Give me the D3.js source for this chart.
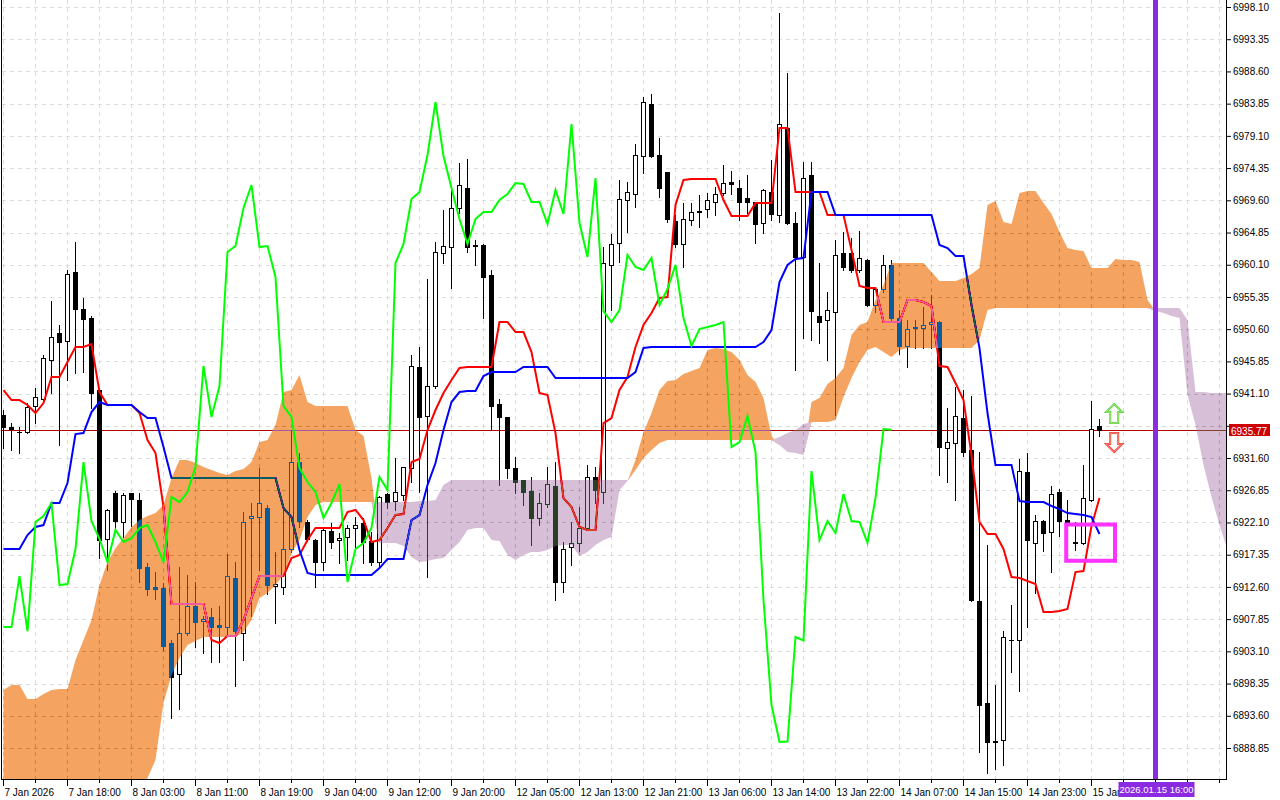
<!DOCTYPE html>
<html><head><meta charset="utf-8">
<script src="https://cdn.jsdelivr.net/npm/d3@7"></script>
<style>
html,body{margin:0;padding:0;background:#fff;}
svg{display:block;}
</style></head><body>
<svg id="c" width="1280" height="800"></svg>
<script>
// ---------------- DATA ----------------
const opens = [6937.94,6936.17,6935.5,6935.44,6939.27,6940.30,6946.05,6950.03,6948.86,6959.03,
 6953.57,6952.25,6941.63,6919.66,6926.44,6922.17,6926.44,6925.41,6915.53,6912.58,
 6912.43,6904.32,6899.75,6905.80,6909.78,6907.57,6908.16,6906.98,6906.68,6913.91,
 6905.80,6922.76,6922.90,6924.23,6912.73,6912.58,6918.18,6931.01,6922.17,6919.51,
 6916.27,6920.84,6919.51,6919.95,6921.28,6922.02,6919.36,6916.27,6926.29,6925.26,
 6926.15,6930.13,6945.02,6937.80,6942.22,6961.83,6962.71,6968.46,6971.41,6963.01,
 6963.01,6958.58,6939.56,6937.65,6930.13,6928.36,6926.74,6922.76,6924.82,6927.47,
 6913.32,6918.48,6919.07,6921.28,6928.80,6926.59,6960.06,6963.30,6969.64,6970.53,
 6976.13,6983.80,6976.28,6973.77,6966.55,6963.16,6966.69,6968.02,6968.32,6969.35,
 6970.67,6972.30,6971.41,6969.94,6969.35,6966.25,6970.82,6967.43,6980.26,6966.25,
 6961.24,6973.33,6952.54,6951.95,6953.13,6961.83,6961.83,6959.32,6960.80,6954.16,
 6956.52,6960.06,6952.25,6948.12,6950.77,6950.77,6951.36,6951.65,6933.08,6933.81,
 6937.50,6932.78,6910.52,6895.48,6889.9,6890.0,6904.8,6904.77,6929.54,6919.07,
 6922.31,6920.69,6926.59,6922.46,6919.2,6919.07,6925.41,6936.32];
const highs = [6938.68,6936.76,6936.17,6939.71,6941.92,6946.79,6954.75,6951.21,6959.32,6963.45,
 6955.19,6952.54,6941.92,6924.09,6926.74,6926.44,6926.50,6926.44,6916.12,6914.79,
 6913.17,6904.77,6915.53,6914.35,6913.32,6908.31,6909.49,6909.78,6917.45,6916.27,
 6923.64,6924.97,6930.13,6924.67,6917.74,6924.67,6935.73,6932.34,6922.5,6919.6,
 6921.43,6922.02,6920.55,6921.72,6922.90,6922.76,6920.69,6926.0,6926.44,6931.60,
 6930.3,6946.79,6947.97,6957.99,6963.45,6968.17,6971.71,6975.10,6975.69,6963.74,
 6963.1,6959.32,6940.30,6937.7,6931.75,6928.4,6928.80,6926.44,6930.28,6931.01,
 6919.22,6922.17,6924.38,6930.57,6930.28,6962.71,6964.63,6972.59,6972.30,6977.90,
 6984.83,6985.27,6978.78,6973.8,6967.43,6969.20,6969.20,6970.38,6970.67,6971.56,
 6974.80,6973.92,6972.59,6973.33,6969.4,6971.2,6975.54,6997.21,6988.37,6967.87,
 6975.25,6975.25,6960.35,6956.08,6963.74,6964.92,6964.04,6965.07,6960.9,6956.8,
 6961.53,6960.80,6953.42,6951.95,6951.95,6953.86,6955.63,6951.8,6938.97,6942.07,
 6941.63,6940.75,6932.49,6918.78,6898.13,6906.10,6909.9,6931.45,6932.34,6923.20,
 6922.4,6927.47,6927.03,6925.41,6922.17,6930.57,6940.01,6937.35];
const lows = [6933.08,6932.78,6932.34,6935.3,6936.76,6939.71,6941.19,6933.52,6943.10,6944.13,
 6944.28,6938.97,6916.86,6915.09,6921.28,6919.95,6921.58,6913.32,6911.40,6910.81,
 6903.29,6893.27,6894.60,6905.51,6903.74,6902.85,6901.52,6901.52,6905.51,6897.99,
 6901.82,6908.31,6915.09,6911.55,6907.28,6911.55,6917.74,6921.43,6919.4,6912.58,
 6915.09,6918.33,6916.12,6916.56,6918.04,6916.12,6915.82,6915.38,6924.23,6923.94,
 6925.41,6928.06,6926.59,6914.06,6942.0,6960.35,6956.67,6967.73,6961.97,6960.06,
 6952.25,6935.73,6927.62,6928.65,6926.44,6924.67,6918.78,6921.72,6924.38,6910.67,
 6911.85,6915.82,6917.89,6921.2,6924.97,6924.97,6953.42,6960.50,6964.92,6968.61,
 6973.62,6976.0,6970.08,6966.40,6962.71,6959.76,6965.96,6965.66,6967.14,6967.43,
 6970.38,6970.53,6966.69,6967.73,6963.30,6964.78,6966.69,6966.40,6966.10,6944.58,
 6949.29,6949.0,6948.56,6946.05,6937.94,6959.32,6959.03,6959.03,6954.0,6953.13,
 6956.08,6951.95,6946.94,6945.02,6947.82,6947.82,6947.82,6929.10,6928.06,6925.41,
 6931.9,6910.52,6888.25,6885.16,6885.75,6886.34,6900.0,6897.25,6906.68,6911.70,
 6917.89,6914.79,6920.10,6919.80,6918.04,6919.0,6925.3,6934.85];
const closes = [6936.17,6935.88,6935.4,6939.12,6940.60,6946.35,6949.44,6948.71,6958.73,6953.57,
 6952.10,6941.19,6919.51,6923.94,6922.31,6926.15,6925.56,6915.38,6912.29,6912.29,
 6903.88,6899.31,6905.80,6909.78,6907.42,6907.86,6906.68,6906.68,6914.20,6906.09,
 6922.17,6923.05,6924.97,6912.88,6913.02,6918.18,6931.01,6922.31,6919.66,6916.27,
 6920.99,6919.22,6919.80,6921.28,6921.72,6919.22,6916.27,6925.85,6925.11,6926.59,
 6930.28,6945.17,6937.65,6942.22,6961.97,6962.86,6968.46,6971.85,6962.71,6962.86,
 6958.29,6939.27,6937.65,6930.13,6928.06,6926.59,6922.76,6924.97,6927.77,6913.32,
 6918.18,6919.07,6921.28,6928.80,6926.88,6960.35,6963.16,6969.79,6970.82,6976.28,
 6984.09,6976.13,6971.41,6966.84,6963.16,6966.84,6967.87,6967.87,6969.64,6970.53,
 6972.15,6972.0,6969.35,6969.35,6966.10,6971.12,6967.58,6980.85,6966.25,6961.24,
 6972.89,6953.27,6951.65,6953.42,6961.53,6959.76,6959.32,6961.09,6954.16,6956.52,
 6960.06,6952.25,6948.12,6950.62,6950.92,6951.21,6951.65,6933.22,6933.96,6937.80,
 6932.49,6910.67,6895.19,6889.73,6889.8,6905.21,6904.7,6929.69,6919.51,6922.31,
 6920.55,6926.29,6922.31,6922.17,6919.1,6925.70,6935.88,6935.77];

const tenkan = [6941.63,6940.15,6940.15,6939.42,6938.24,6939.71,6943.55,6943.55,6945.76,6947.97,
 6947.97,6948.41,6941.33,6939.42,6939.42,6939.42,6939.42,6938.24,6934.26,6932.34,
 6924.38,6910.08,6910.08,6910.08,6910.08,6910.08,6904.77,6904.33,6905.36,6905.36,
 6907.72,6910.96,6914.20,6914.20,6914.20,6914.20,6916.86,6917.30,6919.51,6921.28,
 6921.28,6921.28,6921.28,6923.64,6923.94,6922.46,6919.22,6919.51,6921.28,6923.20,
 6923.35,6931.01,6931.46,6935.73,6938.68,6941.19,6943.10,6944.87,6945.02,6945.02,
 6945.02,6945.02,6951.65,6951.65,6950.18,6950.18,6947.23,6941.19,6940.89,6935.29,
 6925.70,6924.38,6921.43,6920.99,6920.99,6936.76,6937.50,6941.63,6943.55,6947.97,
 6951.21,6952.98,6955.19,6955.34,6968.90,6972.59,6972.74,6972.74,6972.74,6972.74,
 6969.64,6967.28,6967.28,6967.28,6969.20,6969.20,6969.20,6980.26,6980.26,6970.82,
 6970.82,6970.82,6970.82,6967.43,6967.43,6967.43,6962.27,6956.96,6956.67,6956.67,
 6951.65,6951.65,6951.65,6954.90,6954.90,6954.60,6954.01,6945.17,6945.02,6942.66,
 6940.15,6932.04,6922.17,6920.40,6920.40,6918.19,6914.06,6913.91,6913.47,6913.03,
 6908.90,6908.90,6909.04,6909.34,6914.79,6914.94,6921.58,6925.70];

const kijun = [6918.19,6918.19,6918.19,6920.25,6921.43,6921.72,6924.97,6924.97,6927.92,6935.14,
 6935.29,6938.38,6939.86,6939.42,6939.42,6939.42,6939.42,6938.38,6937.50,6937.50,
 6933.22,6928.65,6928.65,6928.65,6928.65,6928.65,6928.65,6928.65,6928.65,6928.65,
 6928.65,6928.65,6928.65,6928.65,6928.65,6924.23,6922.90,6918.04,6914.65,6914.35,
 6914.35,6914.35,6914.35,6914.35,6914.35,6914.35,6914.35,6915.38,6916.71,6916.71,
 6916.71,6922.46,6923.20,6927.62,6930.87,6935.73,6939.86,6941.33,6941.48,6941.48,
 6943.69,6944.28,6944.28,6944.28,6944.28,6945.02,6945.02,6945.02,6945.02,6943.40,
 6943.40,6943.40,6943.40,6943.40,6943.40,6943.40,6943.40,6943.40,6943.40,6944.28,
 6947.82,6947.97,6947.97,6947.97,6947.97,6947.97,6947.97,6947.97,6947.97,6947.97,
 6947.97,6947.97,6947.97,6947.97,6947.97,6948.71,6950.47,6957.55,6960.06,6960.94,
 6961.09,6970.82,6970.82,6970.82,6967.43,6967.43,6967.43,6967.43,6967.43,6967.43,
 6967.43,6967.43,6967.43,6967.43,6967.43,6967.43,6967.43,6963.01,6962.56,6961.39,
 6961.39,6954.16,6947.82,6938.24,6930.57,6930.57,6930.57,6925.26,6925.12,6925.12,
 6925.12,6924.53,6924.08,6923.49,6923.35,6923.20,6922.90,6920.40];

// Senkou spans, indexed by bar position (already shifted 26 bars ahead)
const spanA = [6897.40,6898.13,6898.13,6896.07,6896.07,6896.81,6897.40,6897.54,6897.54,6901.82,
 6904.77,6907.72,6912.88,6916.27,6918.33,6919.81,6921.43,6922.46,6923.05,6923.49,
 6924.67,6928.65,6931.31,6931.31,6930.87,6930.28,6929.83,6929.39,6929.10,6929.69,
 6929.98,6931.01,6933.96,6934.26,6936.47,6941.33,6941.63,6943.84,6939.86,6939.27,
 6939.27,6939.27,6939.27,6939.27,6935.73,6934.85,6928.65,6919.07,6919.07,6919.07,
 6918.63,6917.01,6916.27,6916.42,6916.71,6916.86,6918.04,6919.22,6920.99,6921.28,
 6921.28,6919.51,6919.36,6917.30,6916.56,6917.30,6917.74,6917.74,6918.04,6918.63,
 6918.78,6918.78,6917.15,6917.74,6918.78,6919.51,6919.95,6926.88,6928.21,6931.31,
 6935.44,6938.24,6941.63,6942.96,6943.10,6943.99,6944.43,6944.87,6947.53,6947.82,
 6947.67,6947.23,6946.05,6943.84,6942.81,6940.45,6934.85,6933.52,6932.49,6932.34,
 6932.04,6939.86,6940.45,6942.51,6943.40,6944.87,6949.74,6951.21,6951.65,6954.90,
 6957.11,6960.35,6960.35,6960.35,6960.35,6960.35,6959.03,6957.70,6957.70,6957.70,
 6958.14,6958.73,6959.62,6968.90,6969.49,6966.40,6966.10,6970.67,6970.97,6970.97,
 6969.20,6967.58,6964.92,6962.56,6962.27,6962.12,6959.62,6959.62,6959.62,6960.94,
 6960.80,6960.80,6960.50,6954.90,6953.28,6952.98,6952.54,6952.24,6940.89,6936.47,
 6930.57,6925.85,6921.72,6918.04];
const spanB = [6881.18,6881.18,6881.18,6881.18,6881.18,6881.18,6881.18,6881.18,6881.18,6881.18,
 6881.18,6881.18,6881.18,6881.18,6881.18,6881.18,6881.18,6881.92,6884.42,6887.08,
 6895.48,6899.61,6902.11,6904.03,6904.62,6905.21,6905.21,6905.21,6905.21,6905.21,
 6905.95,6907.72,6910.96,6911.70,6912.88,6914.35,6917.60,6919.51,6922.90,6924.67,
 6925.12,6925.12,6925.12,6925.12,6925.12,6925.12,6925.12,6925.12,6925.12,6925.12,
 6925.12,6925.12,6925.26,6925.26,6925.41,6927.62,6928.36,6928.36,6928.36,6928.36,
 6928.36,6928.36,6928.36,6928.36,6928.36,6928.36,6928.36,6928.36,6928.36,6928.36,
 6928.36,6928.36,6928.36,6928.36,6928.36,6928.36,6928.36,6928.36,6928.36,6929.83,
 6931.60,6932.78,6933.81,6934.26,6934.26,6934.26,6934.26,6934.26,6934.26,6934.26,
 6934.26,6934.26,6934.26,6934.26,6934.26,6934.26,6934.26,6934.70,6935.29,6935.73,
 6936.62,6936.91,6936.91,6936.91,6937.21,6940.60,6943.40,6945.76,6947.53,6947.97,
 6947.23,6946.49,6947.53,6947.82,6947.82,6947.82,6947.82,6947.82,6947.82,6947.82,
 6947.82,6947.82,6949.00,6953.42,6953.72,6953.72,6953.72,6953.72,6953.72,6953.72,
 6953.72,6953.72,6953.72,6953.72,6953.72,6953.72,6953.72,6953.72,6953.72,6953.72,
 6953.72,6953.72,6953.72,6953.72,6953.72,6953.72,6953.72,6953.72,6951.95,6941.33,
 6941.33,6941.19,6941.19,6941.19];

const chikouShift = 26;
const priceTicks = [6998.10,6993.35,6988.60,6983.85,6979.10,6974.35,6969.60,6964.85,6960.10,6955.35,
 6950.60,6945.85,6941.10,6936.35,6931.60,6926.85,6922.10,6917.35,6912.60,6907.85,6903.10,6898.35,6893.60,6888.85];
const timeLabels = ["7 Jan 2026","7 Jan 18:00","8 Jan 03:00","8 Jan 11:00","8 Jan 19:00","9 Jan 04:00",
 "9 Jan 12:00","9 Jan 20:00","12 Jan 05:00","12 Jan 13:00","12 Jan 21:00","13 Jan 06:00","13 Jan 14:00",
 "13 Jan 22:00","14 Jan 07:00","14 Jan 15:00","14 Jan 23:00","15 Jan"];
const timeLabelBars = [0,8,16,24,32,40,48,56,64,72,80,88,96,104,112,120,128,136];
const lastPrice = 6935.77;
const markerBar = 144;
const markerLabel = "2026.01.15 16:00";
const boxAnno = {bar0: 132.9, bar1: 139.0, top: 6921.80, bottom: 6916.45};
const arrowBar = 138.9, arrowUpTop = 6939.56, arrowDownTip = 6932.49;

// ---------------- CHART ----------------
const W = 1280, H = 800, FONT = "Liberation Sans, Arial, sans-serif";
const PL = 2, PR = 1226, PT = 0, PB = 779;
const svg = d3.select('#c');
const n = closes.length;
const x = d3.scaleLinear().domain([0, n - 1]).range([3, 3 + 8 * (n - 1)]);
const y = d3.scaleLinear().domain([6888.85, 6998.10]).range([748, 7]);
const crisp = v => Math.round(v) + 0.5;
const cx = i => x(i) + 0.5;

svg.append('rect').attr('width', W).attr('height', H).attr('fill', '#fff');
svg.append('defs').append('clipPath').attr('id', 'pc')
  .append('rect').attr('x', PL).attr('y', PT).attr('width', PR - PL).attr('height', PB - PT);

const gp = svg.append('g').attr('clip-path', 'url(#pc)');
gp.append('rect').attr('x', 0).attr('y', 0).attr('width', W).attr('height', H).attr('fill', '#fff');

// grid
const gridBars = d3.range(0, 160, 4);
gp.append('g').selectAll('line').data(gridBars).join('line')
  .attr('x1', d => cx(d)).attr('x2', d => cx(d)).attr('y1', PT).attr('y2', PB)
  .attr('stroke', '#dcdcdc').attr('stroke-dasharray', '4,4');
gp.append('g').selectAll('line').data(priceTicks).join('line')
  .attr('x1', PL).attr('x2', PR).attr('y1', d => crisp(y(d))).attr('y2', d => crisp(y(d)))
  .attr('stroke', '#dcdcdc').attr('stroke-dasharray', '4,4');

// last price line
gp.append('line').attr('x1', PL).attr('x2', PR)
  .attr('y1', crisp(y(lastPrice))).attr('y2', crisp(y(lastPrice)))
  .attr('stroke', '#b00000').attr('stroke-width', 1);

// candles
const bars = d3.range(n).map(i => ({i, o: opens[i], h: highs[i], l: lows[i], c: closes[i]}));
const cg = gp.append('g');
cg.selectAll('line').data(bars).join('line')
  .attr('x1', d => cx(d.i)).attr('x2', d => cx(d.i))
  .attr('y1', d => Math.round(y(d.h))).attr('y2', d => Math.round(y(d.l)) + 1)
  .attr('stroke', '#000').attr('stroke-width', 1);
cg.selectAll('rect.bull').data(bars.filter(d => d.c >= d.o)).join('rect').attr('class', 'bull')
  .attr('x', d => cx(d.i) - 2).attr('width', 4)
  .attr('y', d => crisp(y(d.c))).attr('height', d => Math.max(0, Math.round(y(d.o)) - Math.round(y(d.c))))
  .attr('fill', '#fff').attr('stroke', '#000').attr('stroke-width', 1);
cg.selectAll('rect.bear').data(bars.filter(d => d.c < d.o)).join('rect').attr('class', 'bear')
  .attr('x', d => cx(d.i) - 2.5).attr('width', 5)
  .attr('y', d => Math.round(y(d.o))).attr('height', d => Math.max(1, Math.round(y(d.c)) - Math.round(y(d.o)) + 1))
  .attr('fill', '#000');

// tenkan / kijun
const lineGen = d3.line().x((d, i) => cx(i)).y(d => y(d));
gp.append('path').attr('d', lineGen(tenkan)).attr('fill', 'none').attr('stroke', '#ff0000').attr('stroke-width', 2);
gp.append('path').attr('d', lineGen(kijun)).attr('fill', 'none').attr('stroke', '#0000ff').attr('stroke-width', 2);

// cloud (difference blending so the marks underneath invert like in the terminal)
const cloud = d3.range(spanA.length).map(j => ({j, a: spanA[j], b: spanB[j]}));
const upArea = d3.area().x(d => cx(d.j)).y0(d => y(Math.min(d.a, d.b))).y1(d => y(d.a));
const dnArea = d3.area().x(d => cx(d.j)).y0(d => y(Math.min(d.a, d.b))).y1(d => y(d.b));
const kg = gp.append('g').style('mix-blend-mode', 'difference');
kg.append('path').attr('d', upArea(cloud)).attr('fill', '#0b5b9f');
kg.append('path').attr('d', dnArea(cloud)).attr('fill', '#274027');

// chikou
const chikou = d3.range(n - chikouShift).map(i => closes[i + chikouShift]);
gp.append('path').attr('d', lineGen(chikou)).attr('fill', 'none').attr('stroke', '#00ff00').attr('stroke-width', 2);

// annotation box
gp.append('rect')
  .attr('x', x(boxAnno.bar0)).attr('y', y(boxAnno.top))
  .attr('width', x(boxAnno.bar1) - x(boxAnno.bar0)).attr('height', y(boxAnno.bottom) - y(boxAnno.top))
  .attr('fill', 'none').attr('stroke', '#ff33ff').attr('stroke-width', 4);

// arrows
const ax0 = x(arrowBar), upY = y(arrowUpTop), dnY = y(arrowDownTip);
const upPath = `M${ax0},${upY} L${ax0 + 8},${upY + 8} L${ax0 + 4},${upY + 8} L${ax0 + 4},${upY + 19} L${ax0 - 4},${upY + 19} L${ax0 - 4},${upY + 8} L${ax0 - 8},${upY + 8} Z`;
const dnPath = `M${ax0},${dnY} L${ax0 - 8},${dnY - 8} L${ax0 - 4},${dnY - 8} L${ax0 - 4},${dnY - 19} L${ax0 + 4},${dnY - 19} L${ax0 + 4},${dnY - 8} L${ax0 + 8},${dnY - 8} Z`;
gp.append('path').attr('d', upPath).attr('fill', 'none').attr('stroke', '#4ccf3c').attr('stroke-width', 2);
gp.append('path').attr('d', upPath).attr('fill', 'none').attr('stroke', '#d6f58a').attr('stroke-width', 0.7);
gp.append('path').attr('d', dnPath).attr('fill', 'none').attr('stroke', '#f03a3a').attr('stroke-width', 2);
gp.append('path').attr('d', dnPath).attr('fill', 'none').attr('stroke', '#ffb08a').attr('stroke-width', 0.7);

// vertical marker line
svg.append('line').attr('x1', cx(markerBar)).attr('x2', cx(markerBar)).attr('y1', PT).attr('y2', PB + 1)
  .attr('stroke', '#8a2be2').attr('stroke-width', 5);

// frame
svg.append('line').attr('x1', 1.5).attr('x2', 1.5).attr('y1', 0).attr('y2', PB + 1).attr('stroke', '#000');
svg.append('line').attr('x1', 1).attr('x2', PR + 1).attr('y1', PB + 0.5).attr('y2', PB + 0.5).attr('stroke', '#000');
svg.append('line').attr('x1', PR + 0.5).attr('x2', PR + 0.5).attr('y1', 0).attr('y2', PB + 1).attr('stroke', '#000');

// right axis (the tick hidden under the last-price tag is left out)
const visTicks = priceTicks.filter(p => Math.abs(y(p) - y(lastPrice)) > 8);
const ay = svg.append('g').attr('transform', `translate(${PR + 1},0)`)
  .call(d3.axisRight(y).tickValues(priceTicks).tickFormat(d => visTicks.includes(d) ? d3.format('.2f')(d) : '').tickSize(4).tickPadding(2));
ay.select('.domain').remove();
ay.attr('font-family', FONT).attr('font-size', 10);
ay.selectAll('line').attr('stroke', '#000');
ay.selectAll('text').attr('fill', '#000');

// bottom axis
const minorBars = gridBars.filter(b => !timeLabelBars.includes(b) && x(b) < PR);
svg.append('g').selectAll('line').data(minorBars).join('line')
  .attr('x1', d => cx(d)).attr('x2', d => cx(d)).attr('y1', PB + 1).attr('y2', PB + 4).attr('stroke', '#000');
const axb = svg.append('g').attr('transform', `translate(0,${PB + 1})`)
  .call(d3.axisBottom(x).tickValues(timeLabelBars).tickFormat((d, i) => timeLabels[i]).tickSize(6).tickPadding(3));
axb.select('.domain').remove();
axb.attr('font-family', FONT).attr('font-size', 10);
axb.selectAll('line').attr('stroke', '#000');
axb.selectAll('text').attr('text-anchor', 'start').attr('x', 1).attr('fill', '#000');

// last price tag
const lpY = crisp(y(lastPrice));
svg.append('rect').attr('x', PR + 3).attr('y', lpY - 6.5).attr('width', 41).attr('height', 12).attr('fill', '#cc0000');
svg.append('text').attr('x', PR + 5).attr('y', lpY + 4).attr('fill', '#fff')
  .attr('font-family', FONT).attr('font-size', 10).text(d3.format('.2f')(lastPrice));

// marker time tag
svg.append('rect').attr('x', cx(markerBar) - 37).attr('y', PB + 3).attr('width', 76).attr('height', 15).attr('fill', '#8a2be2');
svg.append('text').attr('x', cx(markerBar) + 1).attr('y', PB + 14).attr('text-anchor', 'middle').attr('fill', '#fff')
  .attr('font-family', FONT).attr('font-size', 9.5).text(markerLabel);
</script>
</body></html>
